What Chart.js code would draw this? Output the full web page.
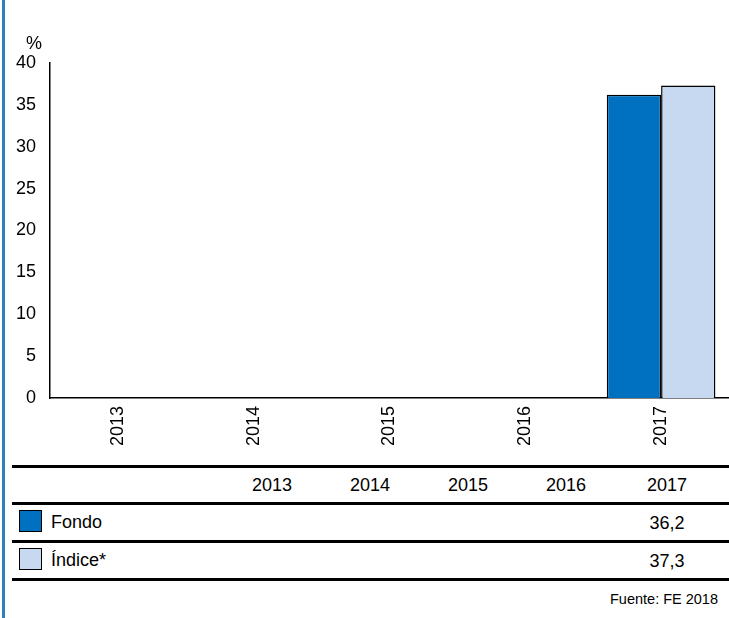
<!DOCTYPE html>
<html>
<head>
<meta charset="utf-8">
<script src="https://cdn.jsdelivr.net/npm/chart.js@4"></script>
<style>
  body { margin: 0; background: #fff; font-family: "Liberation Sans", Arial, sans-serif; }
  #wrap { position: relative; width: 729px; height: 618px; overflow: hidden; }
  #edge { position: absolute; left: 2px; top: 0; width: 3px; height: 618px; background: #2f7ec3; }
  #chartBox { position: absolute; left: 0; top: 0; width: 729px; height: 460px; }
  #pct { position: absolute; left: 26px; top: 33px; font-size: 18px; color: #000; }
  .rule { position: absolute; left: 12px; width: 717px; height: 3px; background: #000; }
  .cell { position: absolute; font-size: 18px; color: #000; transform: translate(-50%, -50%); white-space: nowrap; }
  .sw { position: absolute; left: 19px; width: 21px; height: 20px; border: 1.5px solid #000; }
  .lab { position: absolute; left: 51px; font-size: 18px; color: #000; transform: translateY(-50%); }
  #src { position: absolute; right: 11px; top: 591px; font-size: 14.5px; color: #000; }
</style>
</head>
<body>
<div id="wrap">
  <div id="edge"></div>
  <div id="chartBox"><canvas id="grafico"></canvas></div>
  <div id="pct">%</div>
  <div id="tabla"></div>
  <div id="src">Fuente: FE 2018</div>
</div>
<script>
var anios = ["2013", "2014", "2015", "2016", "2017"];
var fondo = [null, null, null, null, 36.2];
var indice = [null, null, null, null, 37.3];
var fondoTxt = ["", "", "", "", "36,2"];
var indiceTxt = ["", "", "", "", "37,3"];
var ticksY = [0, 5, 10, 15, 20, 25, 30, 35, 40];

var colFondo = "#0070c0";
var colIndice = "#c6d9f0";

/* Grafico de barras */
var ctx = document.getElementById("grafico");
var grafico = new Chart(ctx, {
    type: 'bar',
    data: {
        labels: anios,
        datasets: [
            {
                label: "Fondo",
                data: fondo,
                backgroundColor: colFondo,
                borderColor: "#000",
                borderWidth: 1.5,
                borderSkipped: 'bottom',
                categoryPercentage: 0.8,
                barPercentage: 1.0
            },
            {
                label: "Índice*",
                data: indice,
                backgroundColor: colIndice,
                borderColor: "#000",
                borderWidth: 1.5,
                borderSkipped: 'bottom',
                categoryPercentage: 0.8,
                barPercentage: 1.0
            }
        ]
    },
    options: {
        responsive: true,
        maintainAspectRatio: false,
        animation: false,
        layout: { padding: { left: 0, right: 0, top: 63, bottom: 0 } },
        plugins: { legend: { display: false }, tooltip: { enabled: false } },
        scales: {
            x: {
                grid: { display: false, drawTicks: false },
                border: { color: "#000", width: 1.5 },
                ticks: {
                    color: "#000",
                    font: { family: "Liberation Sans", size: 18 },
                    minRotation: 90,
                    maxRotation: 90,
                    padding: 8
                },
                afterFit: function(s) { s.height = 62; }
            },
            y: {
                min: 0,
                max: 40,
                grid: { display: false, drawTicks: false },
                border: { color: "#000", width: 1.5 },
                afterBuildTicks: function(s) { s.ticks = ticksY.map(function(v){ return { value: v }; }); },
                ticks: {
                    color: "#000",
                    font: { family: "Liberation Sans", size: 18 },
                    padding: 14
                },
                afterFit: function(s) { s.width = 50; }
            }
        }
    }
});

/* Tabla */
var tabla = document.getElementById("tabla");
var colX = [272, 370, 468, 566, 667];
var html = "";
[466, 503, 541, 579].forEach(function(y){ html += '<div class="rule" style="top:' + (y - 1) + 'px"></div>'; });
anios.forEach(function(a, i){ html += '<div class="cell" style="left:' + colX[i] + 'px;top:485px">' + a + '</div>'; });
fondoTxt.forEach(function(t, i){ html += '<div class="cell" style="left:' + colX[i] + 'px;top:523px">' + t + '</div>'; });
indiceTxt.forEach(function(t, i){ html += '<div class="cell" style="left:' + colX[i] + 'px;top:561px">' + t + '</div>'; });
html += '<div class="sw" style="top:510px;background:' + colFondo + '"></div>';
html += '<div class="lab" style="top:522px">Fondo</div>';
html += '<div class="sw" style="top:548px;background:' + colIndice + '"></div>';
html += '<div class="lab" style="top:560px">Índice*</div>';
tabla.innerHTML = html;
</script>
</body>
</html>
